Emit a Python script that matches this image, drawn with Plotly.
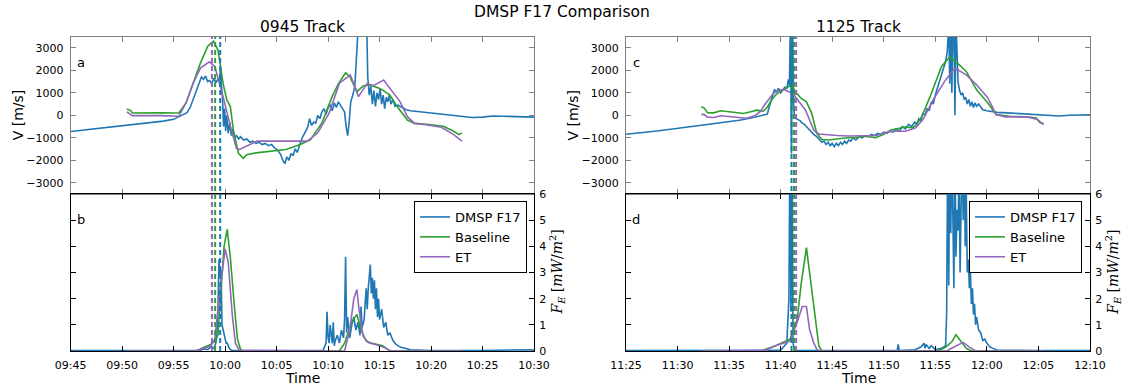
import pandas as pd
import plotly.graph_objects as go

# ---------------- data (minutes after track start) ----------------
DAY = "2014-01-01"
TRACK_STARTS = ["09:45", "11:25"]
TRACK_TITLES = ["0945 Track", "1125 Track"]
SERIES_NAMES = ["DMSP F17", "Baseline", "ET"]
X_TICK_MIN = [0, 5, 10, 15, 20, 25, 30, 35, 40, 45]
V_TICKS = [-3000, -2000, -1000, 0, 1000, 2000, 3000]
V_TICK_TEXT = ["\u22123000", "\u22122000", "\u22121000", "0", "1000", "2000", "3000"]
F_TICKS = [0, 1, 2, 3, 4, 5, 6]

# 0945 track, velocity
L_DMSP_V_T = [0, 2, 4, 6, 8, 9, 10, 10.5, 11, 11.3,
              11.6, 11.9, 12.2, 12.5, 12.7, 12.9, 13.1, 13.3, 13.5, 13.7,
              13.9, 14.1, 14.3, 14.45, 14.55, 14.65, 14.75, 14.85, 14.95, 15.05,
              15.15, 15.3, 15.45, 15.6, 15.75, 15.9, 16.1, 16.3, 16.5, 16.8,
              17.1, 17.4, 17.7, 18.0, 18.3, 18.6, 18.9, 19.2, 19.5, 19.8,
              20.1, 20.4, 20.6, 20.8, 21.0, 21.2, 21.4, 21.6, 21.8, 22.0,
              22.2, 22.4, 22.6, 22.8, 23.0, 23.2, 23.4, 23.6, 23.8, 24.0,
              24.2, 24.4, 24.6, 24.8, 25.0, 25.2, 25.4, 25.6, 25.8, 26.0,
              26.2, 26.4, 26.6, 26.75, 26.9, 27.05, 27.2, 27.4, 27.6, 27.75,
              27.9, 28.2, 28.5, 28.75, 28.85, 29.0, 29.15, 29.3,
              29.45, 29.6, 29.75, 29.9, 30.05, 30.2, 30.35, 30.5, 30.65, 30.8,
              30.95, 31.1, 31.3, 31.5, 31.8, 32.2, 32.6, 33.0, 34, 35,
              36, 37, 38, 39, 40, 41, 42, 43, 44, 45]
L_DMSP_V = [-720, -620, -520, -430, -330, -260, -180, -60, 60, 120,
            350, 700, 1100, 1450, 1700, 1600, 1750, 1500, 1550, 1400,
            1650, 1450, 1600, 1500, 2100, 1300, 700, -500, 300, -700,
            0, -800, -300, -900, -600, -1000, -900, -1050, -950, -1100,
            -1050, -1200, -1150, -1250, -1200, -1300, -1250, -1350, -1300, -1450,
            -1550, -1750, -2000, -2150, -1850, -2000, -1700, -1800, -1500, -1650,
            -1350, -1100, -900, -700, -550, -150, -450, -300, -350, 0,
            -150, 150, 300, 50, 350, 450, 200, 550, 350, 600,
            450, 300, 150, -500, -900, -300, 600, 900, 1300, 2500,
            3800, 4200, 4200, 4100, 1700, 900, 1300, 500,
            1100, 400, 1000, 700, 1200, 500, 900, 300, 800, 600,
            900, 500, 700, 400, 450, 350, 250, 200, 150, 80,
            20, -20, -70, -100, -80, -30, -40, -60, -80, -80]
L_BASE_V_T = [5.45, 5.8, 6.0, 7.0, 8.0, 9.0, 10.0, 10.5, 11.2, 11.9,
              12.6, 13.3, 13.86, 14.3, 14.8, 15.16, 15.5, 15.8, 16.3, 16.77,
              17.1, 18.0, 19.2, 20.9, 22.3, 23.3, 24.4, 25.4, 26.0, 26.7,
              27.1, 27.8, 28.4, 29.0, 29.9, 30.3, 31.0, 31.6, 32.7, 33.4,
              34.8, 36.2, 37.2, 37.7, 38.0]
L_BASE_V = [280, 220, 100, 110, 120, 110, 100, 100, 550, 1430,
            2320, 3060, 3300, 2910, 1430, 680, 400, -650, -1690, -1910,
            -1750, -1670, -1600, -1520, -1300, -1080, -340, 840, 1400, 1890,
            1730, 1050, 1300, 1360, 1210, 1120, 900, 460, -210, -360,
            -410, -490, -710, -860, -780]
L_ET_V_T = [5.45, 5.8, 6.0, 8.75, 10.5, 11.2, 11.9, 12.6, 13.47, 14.0,
            14.8, 15.6, 16.1, 16.4, 17.4, 18.1, 20.9, 23.0, 24.0, 25.1,
            26.1, 27.15, 27.5, 27.95, 28.8, 29.4, 30.4, 31.3, 32.0, 32.7,
            33.4, 34.5, 36.0, 37.2, 38.0]
L_ET_V = [150, 50, -15, -15, -40, 550, 1430, 2100, 2380, 2170,
          830, -650, -1470, -1520, -1300, -1150, -1150, -1150, -780, 100,
          1430, 1790, 1400, 830, 1420, 1320, 1570, 1050, 600, -60,
          -360, -420, -530, -860, -1150]

# 0945 track, energy flux
L_DMSP_F_T = [0, 12.5, 13.0, 13.3, 13.6, 13.9, 14.1, 14.2, 14.3, 14.4,
              14.5, 14.6, 14.7, 14.8, 14.9, 15.0, 15.1, 15.2, 15.4, 15.6,
              16, 20, 24.5, 24.8, 24.9, 25.0, 25.1, 25.2, 25.4, 25.5,
              25.6, 25.7, 25.9, 26.1, 26.3, 26.5, 26.6, 26.7, 26.8, 26.9,
              27.1, 27.3, 27.5, 27.7, 27.9, 28.1, 28.2, 28.3, 28.5, 28.7,
              28.8, 28.9, 29.0, 29.1, 29.2, 29.3, 29.4, 29.5, 29.6, 29.7,
              29.8, 29.9, 30.0, 30.2, 30.4, 30.6, 30.8, 31.0, 31.3, 31.6,
              32.0, 32.5, 33.0, 35, 40, 44.8, 45]
L_DMSP_F = [0.02, 0.02, 0.08, 0.05, 0.15, 0.1, 0.3, 0.6, 1.5, 3.5,
            2.8, 3.1, 1.0, 0.8, 0.6, 0.5, 0.3, 0.3, 0.1, 0.03,
            0.02, 0.02, 0.02, 0.3, 1.5, 0.5, 0.3, 1.0, 0.3, 1.1,
            0.2, 0.4, 0.6, 0.3, 0.8, 0.5, 1.2, 3.6, 0.7, 1.3,
            0.5, 1.0, 1.3, 0.8, 1.1, 0.6, 1.7, 0.9, 1.2, 2.4,
            1.6, 2.4, 3.0, 3.3, 2.2, 2.8, 2.0, 2.7, 1.6, 2.4,
            1.3, 2.0, 1.2, 1.6, 0.9, 1.1, 0.6, 0.7, 0.4, 0.25,
            0.15, 0.1, 0.05, 0.02, 0.02, 0.05, 0.02]
L_BASE_F_T = [5.45, 12.2, 12.9, 13.6, 14.0, 14.3, 14.6, 14.9, 15.2, 15.5,
              15.9, 16.2, 16.5, 16.8, 26.1, 26.6, 27.3, 27.8, 28.2, 28.7,
              29.2, 30.3, 30.8, 31.1, 38.0]
L_BASE_F = [0, 0, 0.13, 0.25, 0.4, 0.6, 2.3, 4.0, 4.65, 3.6,
            1.7, 0.45, 0.06, 0, 0, 0.3, 1.1, 1.4, 0.8, 0.38,
            0.3, 0.2, 0.06, 0, 0]
L_ET_F_T = [5.45, 11.9, 12.6, 13.6, 14.0, 14.5, 15.0, 15.3, 15.7, 16.0,
            16.4, 26.6, 27.1, 27.5, 27.8, 28.0, 28.4, 28.9, 29.6, 30.5,
            31.0, 38.0]
L_ET_F = [0, 0, 0.06, 0.19, 0.45, 2.35, 3.9, 3.4, 1.35, 0.3,
          0.02, 0, 0.8, 2.0, 2.35, 1.6, 0.57, 0.32, 0.25, 0.13,
          0, 0]

# 1125 track, velocity
R_DMSP_V_T = [0, 3, 6, 9, 11, 12, 12.8, 13.3, 13.7, 14.0,
              14.2, 14.4, 14.6, 14.8, 15.0, 15.2, 15.4, 15.6, 15.75, 15.85,
              15.95, 16.05, 16.15, 16.25, 16.35, 16.5, 16.7, 16.9, 17.1, 17.3,
              17.6, 17.9, 18.2, 18.5, 18.8, 19.0, 19.2, 19.4, 19.6, 19.8,
              20.0, 20.2, 20.4, 20.6, 20.8, 21.0, 21.2, 21.4, 21.6, 21.8,
              22.0, 22.3, 22.6, 22.9, 23.2, 23.5, 23.8, 24.1, 24.4, 24.7,
              25.0, 25.3, 25.6, 25.9, 26.2, 26.5, 26.8, 27.1, 27.4, 27.7,
              28.0, 28.2, 28.4, 28.6, 28.8, 29.0, 29.2, 29.4, 29.6, 29.8,
              30.0, 30.2, 30.4, 30.6, 30.8, 31.0, 31.15, 31.3, 31.4, 31.5,
              31.6, 31.7, 31.8, 31.9, 32.0, 32.1, 32.2, 32.35, 32.5, 32.65,
              32.8, 32.95, 33.1, 33.25, 33.4, 33.55, 33.7, 33.85, 34.0, 34.2,
              34.4, 34.6, 35.0, 35.5, 36, 37, 38, 39, 40, 41,
              42, 43, 44, 45]
R_DMSP_V = [-845, -700, -520, -360, -220, -135, -60, -20, 50, 550,
            900, 1150, 1050, 1200, 1000, 1150, 1250, 1200, 1600, 1350,
            4500, -1700, 4500, 500, -100, -150, -200, -250, -350, -400,
            -550, -700, -850, -950, -1100, -1200, -1150, -1300, -1200, -1350,
            -1250, -1400, -1250, -1350, -1200, -1300, -1150, -1250, -1100, -1150,
            -1000, -1100, -950, -1000, -900, -950, -850, -900, -800, -850,
            -750, -800, -700, -750, -600, -700, -500, -600, -400, -500,
            -300, -400, -150, -250, 100, 0, 300, 200, 600, 500,
            900, 1200, 1500, 1800, 2100, 2400, 2800, 4000, 1400, 4200,
            1000, 4200, 4200, 0, 4200, 2500, 1500, 1100, 900, 1000,
            700, 800, 500, 700, 400, 600, 350, 550, 400, 500,
            350, 250, 200, 150, 130, 110, 80, 60, 30, -10,
            -30, 0, 10, 20]
R_BASE_V_T = [7.3, 7.6, 7.9, 8.5, 9.2, 10.0, 10.7, 11.4, 12.0, 12.7,
              13.3, 13.7, 14.0, 14.5, 14.9, 15.5, 16.05, 16.5, 17.0, 17.5,
              18.0, 18.5, 19.0, 19.6, 20.4, 21.5, 22.4, 23.2, 24.2, 25.0,
              25.7, 26.5, 27.1, 27.8, 28.2, 28.7, 29.5, 30.6, 31.4, 32.3,
              33.0, 34.0, 35.1, 35.9, 37.2, 38.9, 39.8, 40.1, 40.5]
R_BASE_V = [380, 320, 120, 110, 200, 150, 130, 80, 150, 230,
            180, 350, 600, 900, 1050, 1200, 1350, 1000, 750, 600,
            100, -800, -1080, -1100, -1050, -1000, -980, -930, -1000, -850,
            -650, -560, -520, -560, -400, -40, 840, 2170, 2600, 2250,
            1950, 1140, 550, 30, -40, -70, -120, -310, -370]
R_ET_V_T = [7.3, 7.6, 7.9, 8.5, 9.2, 10.0, 11.0, 11.7, 12.5, 13.0,
            13.5, 14.3, 14.8, 15.3, 15.8, 16.3, 16.8, 17.4, 17.8, 18.2,
            18.7, 19.5, 20.5, 21.5, 22.5, 23.5, 24.3, 25.0, 25.7, 26.4,
            27.1, 28.1, 28.8, 29.8, 30.9, 31.9, 33.0, 34.0, 35.1, 35.9,
            36.8, 38.9, 39.9, 40.5]
R_ET_V = [40, 30, -80, -100, -20, -60, -100, -130, -20, 160,
          500, 975, 1100, 1150, 1050, 900, 600, 235, -200, -650,
          -830, -870, -900, -920, -920, -930, -900, -780, -720, -700,
          -710, -560, -190, 700, 1510, 2100, 1800, 1360, 770, 30,
          -70, -70, -190, -410]

# 1125 track, energy flux
R_DMSP_F_T = [0, 10, 15.0, 15.6, 15.8, 15.9, 16.0, 16.1, 16.2, 16.35,
              20, 26.3, 26.4, 26.5, 28.0, 28.6, 28.9, 29.0, 29.1, 29.4,
              29.6, 30.0, 30.6, 31.0, 31.1, 31.2, 31.3, 31.4, 31.5, 31.6,
              31.7, 31.8, 31.9, 32.0, 32.1, 32.2, 32.3, 32.4, 32.5, 32.6,
              32.7, 32.8, 32.9, 33.0, 33.1, 33.2, 33.3, 33.4, 33.5, 33.6,
              33.7, 33.8, 33.9, 34.0, 34.2, 34.4, 34.6, 34.8, 35.0, 35.3,
              35.6, 36, 40, 45]
R_DMSP_F = [0.02, 0.02, 0.03, 0.3, 2.0, 8, 1.5, 8, 0.3, 0.02,
            0.02, 0.02, 0.25, 0.02, 0.05, 0.15, 0.3, 0.1, 0.25, 0.1,
            0.2, 0.05, 0.1, 0.2, 1.5, 8, 2.5, 8, 4.5, 8,
            5.2, 2.4, 8, 3.6, 5.4, 4.6, 7, 3.0, 4.3, 8,
            5.0, 8, 4.0, 6.0, 3.0, 3.5, 2.4, 3.0, 1.8, 2.4,
            1.4, 1.8, 1.0, 1.3, 0.8, 0.7, 0.4, 0.45, 0.3, 0.15,
            0.1, 0.03, 0.02, 0.02]
R_BASE_F_T = [7.3, 13.1, 14.5, 15.9, 16.6, 17.0, 17.5, 17.8, 18.0, 18.4,
              18.7, 19.0, 30.3, 31.0, 31.6, 32.0, 32.5, 33.0, 33.5, 40.5]
R_BASE_F = [0, 0, 0.2, 0.45, 1.2, 2.6, 3.95, 3.0, 2.5, 1.1,
            0.2, 0, 0, 0.15, 0.35, 0.62, 0.35, 0.1, 0, 0]
R_ET_F_T = [7.3, 13.5, 14.5, 15.9, 16.6, 17.1, 17.5, 17.8, 18.2, 18.5,
            18.8, 31.1, 31.8, 32.3, 32.7, 33.3, 33.9, 40.5]
R_ET_F = [0, 0.02, 0.2, 0.38, 1.1, 1.7, 1.7, 0.83, 0.32, 0.06,
          0, 0, 0.15, 0.25, 0.33, 0.15, 0, 0]

# dashed reference lines (minutes): DMSP, Baseline, ET
L_MARKS = [14.52, 14.03, 13.72]
R_MARKS = [16.05, 16.3, 16.5]

COLORS = ["#1f77b4", "#2ca02c", "#9467bd"]

# ---------------- figure ----------------
W, H = 1123, 392
FONT = "DejaVu Sans"


def px_x(p):
    return p / W


def px_y(p):
    return 1 - p / H


def times(start, minutes):
    base = pd.Timestamp(f"{DAY} {start}")
    return [base + pd.Timedelta(minutes=float(m)) for m in minutes]


XD = [[px_x(70.7), px_x(534.0)], [px_x(626.0), px_x(1090.0)]]
YD_TOP = [px_y(194.0), px_y(36.6)]
YD_BOT = [px_y(351.0), px_y(194.0)]

panels = [
    dict(start=TRACK_STARTS[0],
         v=[(L_DMSP_V_T, L_DMSP_V), (L_BASE_V_T, L_BASE_V), (L_ET_V_T, L_ET_V)],
         f=[(L_DMSP_F_T, L_DMSP_F), (L_BASE_F_T, L_BASE_F), (L_ET_F_T, L_ET_F)],
         marks=L_MARKS),
    dict(start=TRACK_STARTS[1],
         v=[(R_DMSP_V_T, R_DMSP_V), (R_BASE_V_T, R_BASE_V), (R_ET_V_T, R_ET_V)],
         f=[(R_DMSP_F_T, R_DMSP_F), (R_BASE_F_T, R_BASE_F), (R_ET_F_T, R_ET_F)],
         marks=R_MARKS),
]

fig = go.Figure()
layout = dict(width=W, height=H,
              margin=dict(l=0, r=0, t=0, b=0, pad=0, autoexpand=False),
              paper_bgcolor="white", plot_bgcolor="white",
              font=dict(family=FONT, size=11, color="black"),
              showlegend=True)
shapes, annotations = [], []

for i, p in enumerate(panels):
    top_n, bot_n = 2 * i + 1, 2 * i + 2
    xt = "x" if top_n == 1 else f"x{top_n}"
    yt = "y" if top_n == 1 else f"y{top_n}"
    xb, yb = f"x{bot_n}", f"y{bot_n}"
    legend_id = "legend" if i == 0 else "legend2"

    for k, (t, v) in enumerate(p["v"]):
        assert len(t) == len(v)
        fig.add_trace(go.Scatter(x=times(p["start"], t), y=v, mode="lines",
                                 line=dict(color=COLORS[k], width=1.6),
                                 xaxis=xt, yaxis=yt, showlegend=False,
                                 name=SERIES_NAMES[k]))
    for k, (t, f) in enumerate(p["f"]):
        assert len(t) == len(f)
        fig.add_trace(go.Scatter(x=times(p["start"], t), y=f, mode="lines",
                                 line=dict(color=COLORS[k], width=1.6),
                                 xaxis=xb, yaxis=yb, showlegend=True,
                                 legend=legend_id, name=SERIES_NAMES[k]))

    rng = times(p["start"], [X_TICK_MIN[0], X_TICK_MIN[-1]])
    tickv = times(p["start"], X_TICK_MIN)
    tickt = [ts.strftime("%H:%M") for ts in tickv]
    common_x = dict(range=rng, tickvals=tickv, ticktext=tickt, ticks="inside",
                    ticklen=5, showgrid=False, zeroline=False, showline=True,
                    mirror="ticks", domain=XD[i], automargin=False)
    layout["xaxis" if top_n == 1 else f"xaxis{top_n}"] = dict(
        common_x, anchor=yt, showticklabels=False,
        linecolor="#808080", tickcolor="#808080")
    layout[f"xaxis{bot_n}"] = dict(
        common_x, anchor=xb.replace("x", "y"), showticklabels=True,
        linecolor="black", tickcolor="black", tickfont=dict(size=11),
        ticklabelstandoff=4)
    layout["yaxis" if top_n == 1 else f"yaxis{top_n}"] = dict(
        range=[-3500, 3500], tickvals=V_TICKS, ticktext=V_TICK_TEXT,
        ticks="inside", ticklen=5, showgrid=False, zeroline=False,
        showline=True, mirror="ticks", linecolor="#808080",
        tickcolor="#808080", domain=YD_TOP, anchor=xt, tickfont=dict(size=11),
        ticklabelstandoff=4, automargin=False)
    layout[f"yaxis{bot_n}"] = dict(
        range=[0, 6], tickvals=F_TICKS, ticks="inside", ticklen=5,
        showgrid=False, zeroline=False, showline=True, mirror="ticks",
        linecolor="black", tickcolor="black", domain=YD_BOT, anchor=xb,
        side="right", tickfont=dict(size=11), ticklabelstandoff=2,
        automargin=False)

    for k, m in enumerate(p["marks"]):
        tm = times(p["start"], [m])[0]
        shapes.append(dict(type="line", xref=xt, yref="paper", x0=tm, x1=tm,
                           y0=YD_BOT[0], y1=YD_TOP[1],
                           line=dict(color=COLORS[k], width=2, dash="5px,3px")))

    dx = 555.3 * i
    cx = (XD[i][0] + XD[i][1]) / 2
    annotations += [
        dict(text=TRACK_TITLES[i], x=cx, y=px_y(27), font=dict(size=15.5)),
        dict(text="V [m/s]", x=px_x(18 + dx), y=px_y(115.3), textangle=-90,
             font=dict(size=14)),
        dict(text="<i>F<sub>E</sub></i> [<i>mW</i>/<i>m</i><sup>2</sup>]",
             x=px_x(557 + dx), y=px_y(272.5), textangle=-90,
             font=dict(size=14, family="DejaVu Serif")),
        dict(text="Time", x=cx, y=px_y(378), font=dict(size=14)),
        dict(text="abcd"[2 * i], x=px_x(81 + dx), y=px_y(62), font=dict(size=13)),
        dict(text="abcd"[2 * i + 1], x=px_x(81 + dx), y=px_y(219), font=dict(size=13)),
    ]

annotations.append(dict(text="DMSP F17 Comparison", x=px_x(561.5), y=px_y(12.5),
                        font=dict(size=15.5)))
for a in annotations:
    a.update(xref="paper", yref="paper", showarrow=False,
             xanchor="center", yanchor="middle")

legend_common = dict(xanchor="right", yanchor="top", bordercolor="black",
                     borderwidth=1, bgcolor="white", itemwidth=30,
                     font=dict(size=13, family=FONT), tracegroupgap=0)
layout["legend"] = dict(legend_common, x=px_x(527), y=px_y(201))
layout["legend2"] = dict(legend_common, x=px_x(1082), y=px_y(201))
layout["shapes"] = shapes
layout["annotations"] = annotations
fig.update_layout(**layout)

fig.write_html("out.html",
               config={"displayModeBar": False},
               post_script="document.body.style.margin='0';"
                           "document.body.style.overflow='hidden';")
